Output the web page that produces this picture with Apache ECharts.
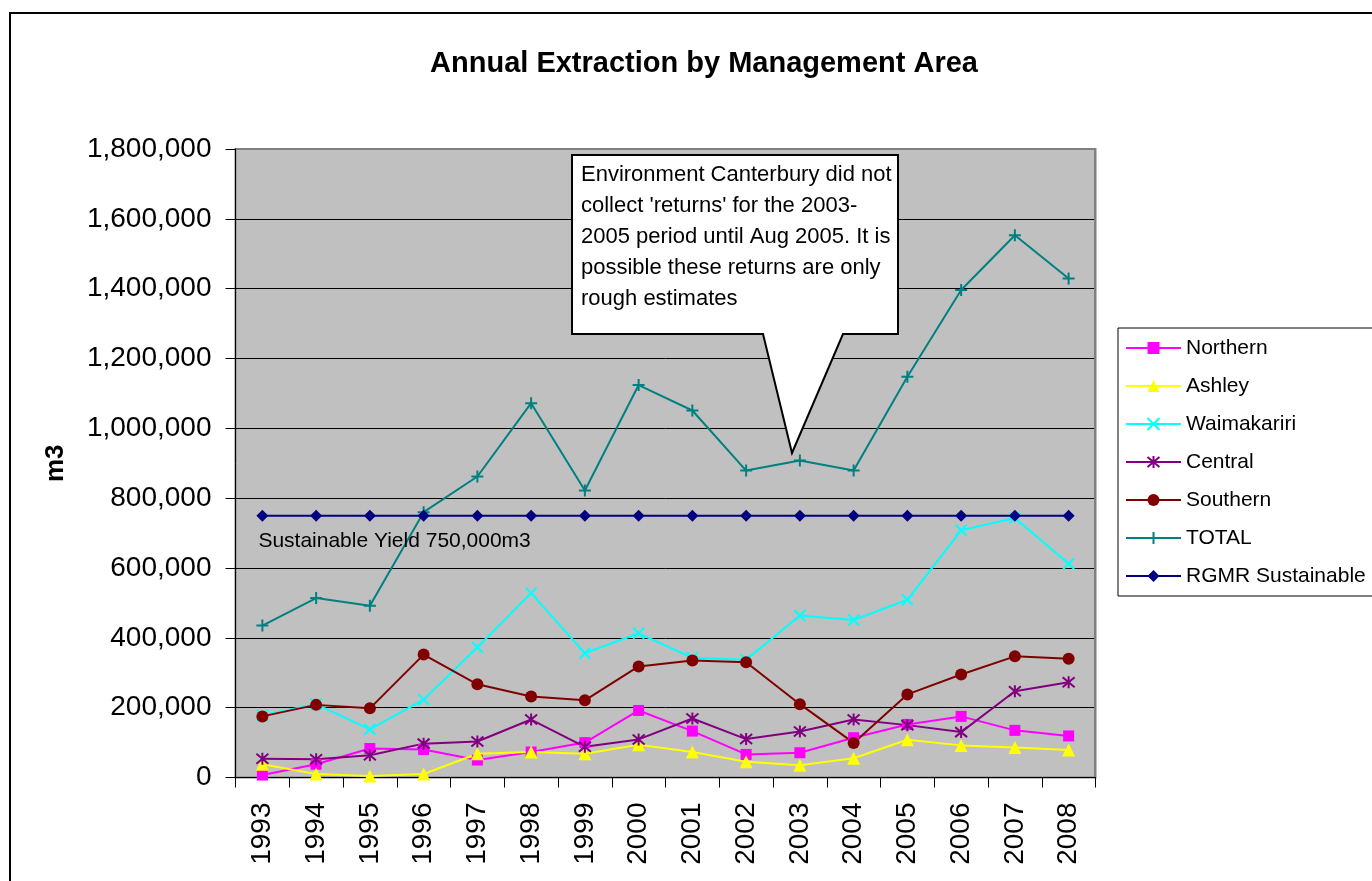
<!DOCTYPE html>
<html>
<head>
<meta charset="utf-8">
<title>Annual Extraction by Management Area</title>
<script src="https://cdn.jsdelivr.net/npm/echarts@6/dist/echarts.min.js"></script>
<style>
  html, body { margin: 0; padding: 0; background: #fff; }
  #chart { width: 1372px; height: 881px; }
</style>
</head>
<body>
<div id="chart"></div>
<script>
var years = ['1993', '1994', '1995', '1996', '1997', '1998', '1999', '2000',
             '2001', '2002', '2003', '2004', '2005', '2006', '2007', '2008'];

var northern    = [7000, 38000, 83000, 80000, 50000, 73000, 100000, 192000, 133000, 66000, 71000, 114000, 152000, 175000, 135000, 119000];
var ashley      = [38000, 10000, 4000, 10000, 68000, 73000, 68000, 94000, 73000, 45000, 35000, 55000, 108000, 92000, 86000, 79000];
var waimakariri = [178000, 210000, 138000, 223000, 373000, 528000, 356000, 413000, 343000, 337000, 464000, 451000, 509000, 708000, 743000, 612000];
var central     = [54000, 52000, 64000, 97000, 103000, 166000, 88000, 109000, 169000, 110000, 132000, 166000, 150000, 130000, 247000, 273000];
var southern    = [175000, 208000, 198000, 352000, 267000, 232000, 221000, 318000, 335000, 330000, 210000, 99000, 238000, 295000, 347000, 340000];
var total       = [435000, 514000, 492000, 760000, 862000, 1072000, 822000, 1124000, 1051000, 879000, 908000, 879000, 1148000, 1396000, 1553000, 1429000];
var rgmr        = [750000, 750000, 750000, 750000, 750000, 750000, 750000, 750000, 750000, 750000, 750000, 750000, 750000, 750000, 750000, 750000];

var yieldLabel = 'Sustainable Yield 750,000m3';
var noteLines = [
  'Environment Canterbury did not',
  "collect 'returns' for the 2003-",
  '2005 period until Aug 2005. It is',
  'possible these returns are only',
  'rough estimates'
];

var FONT = '"Liberation Sans", Arial, sans-serif';

// open symbols drawn with strokes only
var X_PATH = 'path://M0,0L10,10M10,0L0,10';
var STAR_PATH = 'path://M0,0L10,10M10,0L0,10M5,-1L5,11';
var PLUS_PATH = 'path://M5,0L5,10M0,5L10,5';

function lineSeries(name, data, color, symbol, size, stroked) {
  var s = {
    name: name,
    type: 'line',
    data: data,
    symbol: symbol,
    symbolSize: size,
    lineStyle: { color: color, width: 2 },
    itemStyle: { color: color }
  };
  if (stroked) {
    s.itemStyle = { color: color, borderColor: color, borderWidth: 2 };
  }
  return s;
}

var rgmrSeries = lineSeries('RGMR Sustainable', rgmr.map(function (v, i) {
  if (i !== 0) return v;
  return {
    value: v,
    label: {
      show: true,
      formatter: yieldLabel,
      position: [2, 21],
      align: 'left',
      verticalAlign: 'top',
      color: '#000',
      fontSize: 21,
      fontFamily: FONT
    }
  };
}), '#000080', 'diamond', 12, false);

var chart = echarts.init(document.getElementById('chart'));
chart.setOption({
  animation: false,
  backgroundColor: '#fff',
  title: {
    text: 'Annual Extraction by Management Area',
    left: 699,
    top: 44,
    textAlign: 'center',
    textStyle: { fontFamily: FONT, fontSize: 29, fontWeight: 'bold', color: '#000' }
  },
  grid: {
    left: 235.5, top: 149, right: 276.5, bottom: 103.5,
    show: true,
    backgroundColor: '#C0C0C0',
    borderColor: '#808080',
    borderWidth: 2
  },
  legend: {
    orient: 'vertical',
    left: 1118,
    top: 328,
    padding: [9, 8, 9, 7],
    itemGap: 16,
    itemWidth: 55,
    itemHeight: 15,
    backgroundColor: '#fff',
    borderColor: '#000',
    borderWidth: 1,
    borderRadius: 0,
    textStyle: { fontFamily: FONT, fontSize: 21, color: '#000', lineHeight: 22 },
    data: ['Northern', 'Ashley', 'Waimakariri', 'Central', 'Southern', 'TOTAL', 'RGMR Sustainable']
  },
  xAxis: {
    type: 'category',
    data: years,
    boundaryGap: true,
    axisLine: { show: true, lineStyle: { color: '#000', width: 1 } },
    axisTick: { show: true, length: 10, lineStyle: { color: '#000' } },
    axisLabel: {
      rotate: 90,
      margin: 25,
      interval: 0,
      color: '#000',
      fontFamily: FONT,
      fontSize: 28
    },
    splitLine: { show: false }
  },
  yAxis: {
    type: 'value',
    min: 0,
    max: 1800000,
    interval: 200000,
    name: 'm3',
    nameLocation: 'middle',
    nameGap: 167,
    nameTextStyle: { fontFamily: FONT, fontSize: 26, fontWeight: 'bold', color: '#000' },
    axisLine: { show: true, lineStyle: { color: '#000', width: 1 } },
    axisTick: { show: true, length: 10, lineStyle: { color: '#000' } },
    axisLabel: {
      margin: 24,
      color: '#000',
      fontFamily: FONT,
      fontSize: 28,
      formatter: function (v) { return v.toLocaleString('en-US'); }
    },
    splitLine: { show: true, lineStyle: { color: '#000', width: 1 } }
  },
  series: [
    lineSeries('Northern', northern, '#FF00FF', 'rect', 11, false),
    lineSeries('Ashley', ashley, '#FFFF00', 'triangle', 13, false),
    lineSeries('Waimakariri', waimakariri, '#00FFFF', X_PATH, 11, true),
    lineSeries('Central', central, '#800080', STAR_PATH, 12, true),
    lineSeries('Southern', southern, '#800000', 'circle', 12, false),
    lineSeries('TOTAL', total, '#008080', PLUS_PATH, 12, true),
    rgmrSeries
  ],
  graphic: [
    {
      type: 'rect',
      shape: { x: 10, y: 13, width: 1420, height: 920 },
      style: { fill: 'none', stroke: '#000', lineWidth: 2 },
      silent: true,
      z: 0
    },
    {
      type: 'polyline',
      shape: { points: [[236, 149], [1095, 149], [1095, 777]] },
      style: { fill: 'none', stroke: '#808080', lineWidth: 2 },
      silent: true,
      z: 1
    },
    {
      type: 'polygon',
      shape: {
        points: [[572, 155], [898, 155], [898, 334], [843, 334], [792, 453], [763, 334], [572, 334]]
      },
      style: { fill: '#fff', stroke: '#000', lineWidth: 2 },
      z: 100
    },
    {
      type: 'text',
      left: 581,
      top: 159,
      style: {
        text: noteLines.join('\n'),
        fontFamily: FONT,
        fontSize: 22,
        lineHeight: 31,
        fill: '#000'
      },
      z: 101
    }
  ]
});
</script>
</body>
</html>
